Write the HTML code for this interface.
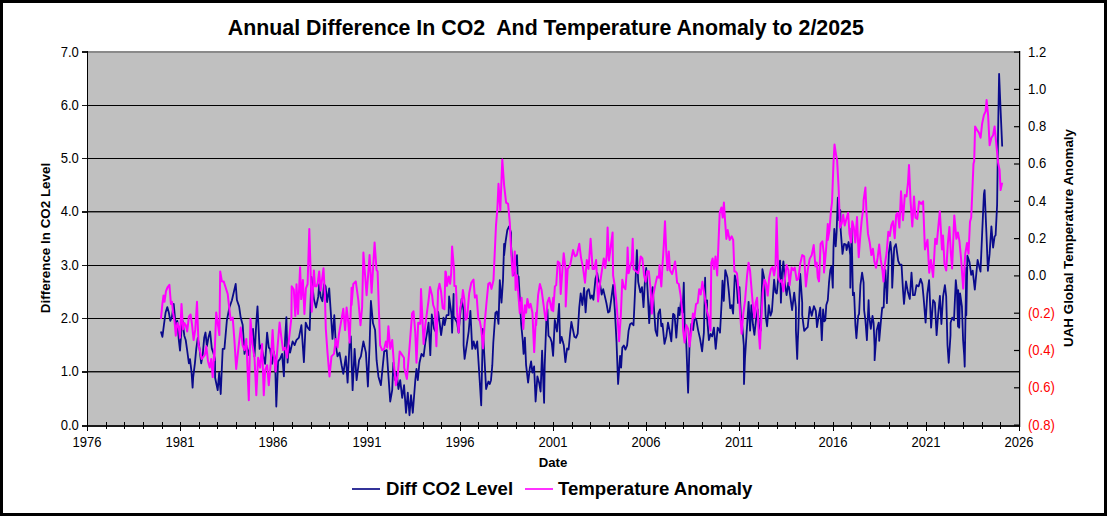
<!DOCTYPE html>
<html><head><meta charset="utf-8"><style>
html,body{margin:0;padding:0;background:#fff;}
body{width:1112px;height:519px;position:relative;overflow:hidden;color:#000;}
svg{position:absolute;left:0;top:0;}
</style></head><body>
<svg width="1112" height="519" viewBox="0 0 1112 519">
<rect x="87" y="53" width="932" height="372" fill="#C0C0C0"/>
<rect x="87" y="51" width="932" height="2" fill="#8A8A8A"/>
<rect x="87" y="105" width="932" height="1" fill="#000"/>
<rect x="87" y="158" width="932" height="1" fill="#000"/>
<rect x="87" y="211" width="932" height="1" fill="#111"/>
<rect x="87" y="212" width="932" height="1" fill="#707070"/>
<rect x="87" y="265" width="932" height="1" fill="#000"/>
<rect x="87" y="318" width="932" height="1" fill="#000"/>
<rect x="87" y="371" width="932" height="1" fill="#111"/>
<rect x="87" y="372" width="932" height="1" fill="#707070"/>
<polyline points="160.9,331.5 162.4,336.8 163.9,325.1 165.6,312.4 167.3,307.1 168.8,312.4 170.3,320.9 172.0,316.6 173.7,303.9 175.1,318.8 176.2,325.1 177.3,320.9 178.8,340.0 180.0,350.6 181.5,329.4 182.6,320.9 184.3,335.7 185.7,340.0 187.2,350.6 188.9,363.3 190.0,359.1 191.5,371.8 192.6,387.7 193.2,377.1 194.9,363.3 196.3,348.4 197.8,337.8 199.5,348.4 201.2,363.3 202.7,354.8 204.2,337.8 205.5,332.5 206.9,346.3 208.4,337.8 210.1,331.5 211.8,348.4 213.3,352.7 215.0,359.1 215.1,377.7 217.7,390.2 219.2,372.7 220.7,394.0 222.7,348.9 224.4,348.9 226.9,320.1 229.4,307.5 231.9,300.2 235.7,284.0 236.9,300.0 239.1,306.4 240.7,317.6 242.7,325.1 244.5,353.9 246.3,345.1 248.8,355.1 251.3,336.4 253.0,328.8 254.5,356.4 256.3,322.6 257.5,306.4 259.6,348.9 261.3,345.1 263.1,355.1 265.1,363.9 267.1,332.6 268.8,347.6 270.1,348.9 272.1,363.9 273.8,351.4 275.1,360.2 276.3,406.5 278.1,361.4 280.1,358.9 282.1,353.9 283.9,376.4 285.1,338.9 286.4,317.1 287.6,362.7 288.9,345.1 290.1,352.6 292.6,341.4 294.6,345.1 296.4,340.1 298.9,337.6 301.4,325.1 303.9,362.2 305.7,322.6 307.7,327.6 309.7,330.1 311.4,276.8 313.9,299.1 316.0,307.5 318.2,296.9 319.2,284.2 320.7,296.9 322.4,301.2 324.1,284.2 325.6,286.3 327.1,302.2 329.2,288.4 330.9,313.9 332.5,338.9 334.3,315.2 335.8,345.1 337.5,356.4 339.5,352.6 341.6,365.2 343.3,373.9 345.8,356.4 347.6,382.7 349.6,342.6 350.8,336.4 352.6,390.2 354.6,348.9 356.6,380.2 359.1,360.2 360.9,356.4 363.4,341.4 365.9,352.6 367.9,386.5 369.6,345.1 370.9,300.8 373.0,323.3 375.1,330.1 376.6,360.2 378.4,376.4 380.9,385.2 384.2,351.4 386.7,350.1 388.4,375.2 390.2,401.5 392.2,390.2 393.4,362.7 395.2,380.2 396.7,372.7 398.4,389.0 400.2,380.2 402.2,397.8 404.1,385.2 406.0,412.8 407.8,392.7 409.5,415.3 411.0,395.2 412.8,412.8 415.3,380.2 416.5,368.9 417.8,380.2 419.5,362.7 421.5,353.9 423.6,356.4 425.3,342.6 427.1,332.6 428.6,322.6 430.3,355.1 431.8,314.5 434.1,328.8 436.1,332.6 438.2,312.0 439.6,322.6 441.1,335.1 443.5,317.7 444.6,325.1 446.6,315.1 448.6,315.1 449.1,296.5 451.6,315.3 452.1,332.6 453.6,294.0 453.6,316.3 457.1,322.6 458.6,332.6 461.6,299.0 463.6,310.3 463.6,345.1 464.6,358.9 466.7,345.1 468.7,331.3 470.4,310.8 472.2,348.9 473.7,341.4 475.4,348.9 477.2,341.4 479.2,372.7 481.2,405.3 482.9,328.8 484.7,362.7 486.1,389.0 488.4,381.5 489.8,384.0 491.0,380.2 492.3,365.2 493.3,342.7 495.4,312.9 496.9,311.4 498.5,323.9 499.8,280.1 501.5,302.7 503.0,280.1 504.1,243.8 504.1,255.3 505.6,241.5 507.3,230.2 509.1,226.4 511.1,232.7 511.1,246.3 512.3,262.8 513.6,275.2 515.2,266.4 517.0,255.2 518.1,290.1 518.6,276.6 519.8,297.7 521.1,323.3 522.7,340.2 523.6,353.9 524.9,337.6 526.1,365.2 528.1,382.7 529.9,367.7 531.1,361.4 532.4,372.7 534.1,366.4 535.6,401.5 537.4,376.4 539.1,382.7 540.6,391.5 542.1,350.6 544.1,402.8 544.7,365.4 546.4,318.8 547.4,309.2 548.5,335.7 550.2,337.8 551.7,342.1 553.1,355.9 554.8,319.8 557.0,331.5 559.1,303.9 560.1,343.1 561.6,336.8 562.9,342.1 563.8,345.3 565.4,362.2 567.1,348.4 568.6,349.5 570.1,333.6 571.4,321.9 572.9,329.4 574.4,336.8 576.0,337.8 577.7,333.6 579.2,308.2 580.7,293.3 582.4,305.0 584.1,288.0 585.6,312.4 587.1,291.2 588.8,289.1 590.5,298.6 591.9,295.4 593.4,299.7 595.5,278.5 597.2,273.2 598.1,278.9 600.0,283.9 601.7,294.5 603.2,289.2 604.7,295.6 606.4,303.0 608.1,312.5 609.5,311.5 611.0,300.9 613.1,285.0 614.8,309.4 616.5,341.2 618.1,384.0 620.1,356.0 621.1,367.7 622.3,347.5 623.8,345.4 625.4,349.6 627.1,345.4 628.6,330.6 630.1,324.2 631.8,323.1 633.5,325.3 635.0,292.4 636.9,250.1 638.2,281.8 640.3,292.4 642.0,287.1 643.5,307.2 645.0,279.7 646.2,268.0 647.7,292.4 649.2,323.1 650.9,295.6 652.6,287.1 654.1,310.4 655.5,330.6 657.2,335.9 658.3,313.6 660.0,309.4 661.3,326.3 662.5,323.8 664.5,343.9 666.3,336.4 668.0,322.6 669.5,330.1 671.3,341.4 673.1,313.8 674.6,315.1 676.3,337.6 678.5,307.7 679.6,315.1 681.0,300.1 682.6,312.7 683.8,282.7 684.6,322.6 686.3,343.9 688.1,392.7 689.6,342.6 691.4,323.8 693.1,330.1 694.6,317.6 696.4,320.1 698.1,330.1 700.1,338.9 702.1,351.4 703.9,332.6 705.1,277.7 705.6,305.0 707.1,300.3 707.1,317.6 708.9,340.1 710.6,333.9 712.2,336.4 713.9,327.6 715.7,348.9 717.7,327.6 719.7,331.3 720.0,332.7 721.7,300.9 722.5,280.7 723.8,300.9 725.3,270.1 727.4,277.6 728.9,292.4 730.2,308.3 731.7,305.1 733.1,313.6 734.8,275.4 736.5,281.8 738.0,303.0 739.5,287.1 740.8,313.6 742.3,326.3 743.8,345.4 744.0,384.0 745.0,358.1 746.5,334.8 748.6,301.9 750.1,330.6 751.4,305.1 752.9,324.2 754.4,334.8 756.0,320.0 757.7,309.4 759.2,327.4 760.7,330.6 762.4,269.1 764.1,277.6 765.6,315.7 767.1,326.3 768.8,305.1 770.5,315.7 771.9,311.5 774.1,279.7 775.5,292.4 776.8,293.5 778.3,277.6 780.0,260.6 780.9,302.7 782.1,272.6 783.4,261.4 785.1,285.2 786.6,295.2 788.4,282.7 790.1,295.2 792.1,310.2 794.2,292.7 795.9,307.7 795.9,330.1 797.2,358.9 797.7,342.8 798.4,327.6 799.2,300.2 800.2,273.9 802.2,302.7 802.2,315.1 804.2,330.8 805.9,328.9 807.7,327.1 809.7,307.0 811.7,315.8 813.9,306.2 815.8,310.8 817.0,327.1 818.5,317.6 820.3,307.6 821.8,340.2 823.1,309.5 824.3,321.4 825.3,320.2 826.3,305.1 827.8,300.2 829.0,282.7 830.3,270.1 831.5,266.4 832.8,287.7 833.5,247.8 834.3,228.9 835.7,246.4 836.6,232.5 837.8,197.7 839.1,220.2 840.3,210.2 840.7,230.1 842.5,253.9 844.1,243.9 846.0,244.6 846.6,250.1 848.6,242.0 850.3,255.3 850.3,287.7 851.6,228.3 852.9,295.2 854.1,292.7 855.4,325.3 856.4,338.3 858.2,315.8 859.1,313.8 860.4,285.2 862.1,272.6 863.6,282.7 864.1,310.0 865.4,320.2 866.9,340.2 868.6,300.2 869.1,315.1 870.8,328.9 872.5,315.8 873.6,322.8 874.6,346.6 874.6,360.2 876.7,330.2 878.7,322.6 879.2,340.8 881.0,320.2 882.2,307.7 883.7,307.5 884.2,290.2 885.4,270.1 886.9,303.2 888.9,252.7 890.4,242.0 891.7,255.3 892.2,287.7 894.2,247.7 895.9,244.1 898.2,260.9 899.8,264.6 901.5,264.6 903.0,290.1 904.0,303.9 906.0,281.4 908.0,292.6 909.8,298.9 911.5,272.6 913.0,295.1 914.8,295.1 916.5,285.1 918.6,286.4 920.6,278.9 922.3,283.9 923.6,297.6 925.6,322.7 927.3,293.9 929.1,280.1 931.1,327.7 933.1,300.1 934.9,302.7 936.6,335.2 938.1,315.2 939.9,295.8 941.4,324.0 943.1,296.4 944.9,285.1 946.2,296.4 947.5,345.3 948.7,362.8 950.5,335.2 950.6,322.7 952.2,317.7 954.0,320.2 955.8,280.1 957.0,292.6 958.0,326.5 958.2,290.1 959.2,327.7 960.1,293.3 961.9,306.4 963.1,340.2 964.2,355.3 964.7,366.6 966.3,267.8 966.3,315.2 966.7,295.1 967.4,255.7 969.5,262.1 971.2,274.8 972.7,270.6 974.8,289.6 977.6,260.0 980.5,271.6 982.2,232.4 983.9,194.2 984.6,190.1 986.4,232.7 987.9,270.8 989.6,253.9 991.4,226.4 993.1,247.6 994.6,236.5 995.6,235.2 997.1,205.1 998.1,130.2 999.1,73.8 1000.6,110.1 1002.2,146.5" fill="none" stroke="#0A0A8C" stroke-width="1.8" stroke-linejoin="round"/>
<polyline points="160.9,318.8 162.4,303.9 163.5,295.4 164.5,301.8 166.0,291.2 167.7,287.0 169.4,284.8 170.9,303.9 172.0,301.8 173.0,312.4 174.5,320.9 175.8,335.7 177.3,323.0 178.8,327.2 180.0,337.8 181.5,303.9 183.0,329.4 184.3,323.0 185.7,325.1 187.2,331.5 188.9,316.6 190.6,314.5 192.1,325.1 193.6,340.0 195.3,329.4 197.0,301.8 198.5,344.2 199.9,350.6 201.6,359.1 203.3,356.9 204.8,354.8 206.3,346.3 208.0,361.2 209.7,367.5 211.2,359.1 212.7,377.1 214.4,348.4 214.4,360.2 216.2,312.5 219.4,335.1 220.2,271.4 221.9,281.4 223.7,281.4 227.7,294.0 228.9,305.0 230.7,320.1 232.7,317.6 234.4,340.1 236.2,368.9 238.2,350.1 240.7,327.6 242.6,345.1 244.5,350.1 246.3,338.9 248.8,400.3 250.5,318.8 252.5,345.1 254.5,357.7 256.3,395.2 258.1,357.7 260.1,367.7 262.1,343.9 263.8,395.2 265.1,370.2 267.1,365.2 268.8,385.2 270.6,365.2 272.6,330.1 273.8,352.6 275.6,371.4 277.6,346.4 279.6,322.6 281.4,337.6 283.1,350.1 285.1,347.6 287.1,357.7 288.9,340.1 291.4,317.6 291.7,286.3 293.8,289.5 295.3,316.0 296.5,284.2 298.0,313.9 300.1,267.2 301.2,299.1 302.9,280.0 304.4,313.9 305.9,288.4 307.6,284.2 309.3,229.1 310.7,273.6 311.8,311.8 313.9,270.4 315.0,286.3 316.5,286.3 317.7,283.1 319.2,271.5 320.7,290.6 322.0,280.0 323.5,268.3 324.9,294.8 325.8,328.8 327.5,352.6 329.5,376.4 331.5,356.4 334.0,353.9 335.8,338.9 337.5,347.6 339.0,333.9 341.8,317.7 343.3,308.8 345.1,330.1 346.6,307.6 348.3,322.6 349.6,342.6 351.6,287.7 351.6,305.0 353.3,284.0 355.8,281.4 358.3,300.2 360.5,325.2 362.1,307.5 363.4,252.6 365.1,275.2 366.6,295.2 369.6,255.1 371.6,292.7 374.6,242.6 376.6,270.2 377.6,271.4 380.1,345.1 382.1,350.1 384.2,348.9 385.9,341.4 387.2,347.6 388.4,326.3 390.2,348.9 392.2,340.1 394.2,367.7 395.9,385.2 397.7,375.2 399.7,351.4 402.2,355.1 404.0,357.7 404.2,367.7 406.9,379.0 409.5,347.6 412.1,313.3 413.5,311.3 415.3,332.6 416.5,362.7 418.2,322.7 420.3,323.8 421.0,289.0 423.6,343.9 425.3,325.1 428.6,300.2 430.0,287.0 432.1,295.4 433.2,305.0 434.7,309.2 436.4,346.3 438.1,290.1 439.5,283.8 441.0,291.2 442.7,308.2 444.4,309.2 445.4,271.4 445.9,272.1 447.0,285.9 448.7,276.4 450.1,283.8 451.2,273.2 452.1,246.4 454.1,270.2 454.4,285.9 455.9,285.9 457.1,312.4 458.6,332.5 460.1,308.2 461.8,301.8 462.9,290.1 464.4,299.7 465.6,319.8 467.1,317.7 469.2,293.3 471.3,282.7 473.5,279.5 474.9,297.6 476.6,295.4 478.3,318.8 479.8,320.9 481.3,329.4 483.0,348.4 484.7,323.0 486.2,306.0 488.3,283.8 490.0,282.7 491.5,288.9 493.5,280.1 496.0,225.2 497.3,210.2 498.5,183.8 500.3,210.2 502.3,159.5 504.1,185.1 506.1,202.6 508.1,203.9 509.8,222.7 511.1,250.2 512.7,275.8 513.6,267.6 514.8,251.5 515.6,290.1 517.0,275.2 518.6,297.7 519.8,313.2 521.6,297.7 523.3,328.9 524.9,305.2 526.1,312.7 527.4,298.9 529.1,307.7 530.6,303.9 532.4,312.7 534.2,352.1 536.1,312.7 536.1,325.1 538.1,295.2 539.9,283.9 541.6,290.1 543.6,305.2 545.3,318.3 546.1,320.1 547.4,302.7 549.2,297.7 551.7,310.2 553.2,297.7 553.2,311.3 554.9,286.4 556.2,285.1 557.8,261.4 559.6,263.3 560.7,293.9 562.1,274.0 563.7,253.3 565.7,270.3 565.7,306.4 567.7,268.9 570.2,265.2 573.0,250.1 575.0,256.3 576.8,255.1 579.3,243.8 581.0,257.6 583.0,267.6 585.0,282.7 586.8,260.1 588.5,268.9 590.6,238.8 592.6,268.9 594.3,268.9 596.1,260.1 598.1,301.4 600.0,283.9 602.1,269.1 603.8,258.5 605.3,268.0 606.8,254.2 607.6,227.5 608.9,260.6 612.6,232.5 613.1,275.4 614.8,286.0 616.5,303.0 618.0,324.2 619.1,341.2 620.8,315.7 622.3,279.7 623.8,287.1 625.4,289.2 627.1,267.0 627.6,247.6 628.6,273.3 631.8,260.6 632.7,238.8 633.5,269.1 638.2,273.3 639.2,267.0 640.7,256.4 642.4,258.5 644.1,275.4 645.6,281.8 647.1,271.2 648.8,271.2 650.5,288.2 651.9,313.6 653.4,294.5 655.5,283.9 657.2,276.5 658.9,277.6 659.5,265.2 661.3,286.5 662.5,265.2 663.8,245.1 665.0,221.3 666.3,252.7 667.5,270.2 668.8,251.4 670.0,270.2 672.1,274.0 673.8,267.7 675.1,261.4 677.1,282.7 678.8,284.0 680.6,295.3 682.6,315.3 683.1,330.1 684.6,342.6 686.3,325.1 688.1,328.8 689.6,346.4 689.7,345.4 691.4,330.6 692.9,313.6 694.4,317.8 696.0,304.1 697.7,303.0 699.2,289.2 700.7,294.5 702.4,281.8 704.1,292.4 705.6,303.0 707.1,311.5 708.8,317.8 710.5,330.6 711.3,262.7 712.6,258.5 714.1,269.1 715.5,256.4 717.2,275.4 718.2,250.2 719.7,212.6 721.4,207.5 722.7,217.6 723.9,202.5 725.2,222.6 726.4,238.9 727.7,230.1 729.7,240.1 731.7,236.3 733.2,240.1 734.4,271.4 735.3,271.2 737.0,273.3 738.7,292.4 740.1,313.6 741.6,333.8 743.3,313.6 745.0,300.9 747.1,275.4 748.6,262.7 750.1,271.2 751.8,292.4 752.9,305.1 754.4,317.8 755.6,303.0 757.1,297.7 758.6,330.6 759.9,348.6 761.3,320.0 762.8,292.4 764.5,279.7 766.2,283.9 767.7,295.6 769.2,277.6 770.9,269.1 772.6,267.0 774.1,275.4 775.5,267.0 776.6,217.7 778.3,277.6 780.0,281.8 781.6,280.1 783.4,291.4 785.1,277.6 786.6,265.1 788.4,270.1 789.6,285.2 791.6,267.6 793.4,270.1 794.7,267.6 796.7,280.1 798.4,278.9 800.2,263.9 802.2,255.1 804.2,256.3 805.9,286.4 807.7,270.1 809.7,258.9 811.7,255.1 813.7,245.1 815.4,266.4 816.7,262.6 817.8,277.6 819.0,281.4 820.6,243.9 822.4,241.4 824.0,255.3 824.0,272.6 826.0,250.2 827.8,224.0 827.8,240.1 829.5,230.2 831.0,210.2 832.0,202.7 833.5,162.6 834.5,144.5 836.1,155.1 837.1,160.1 838.6,187.6 840.0,227.6 841.7,223.3 843.2,214.8 844.7,225.4 846.4,219.1 848.1,212.7 849.5,233.9 851.0,242.4 852.3,221.2 853.8,227.6 855.3,242.4 857.0,217.0 858.7,257.2 860.1,238.2 861.6,221.2 863.3,208.5 863.6,200.2 865.4,187.6 866.5,212.7 868.0,233.9 869.7,242.4 871.4,255.1 872.9,248.8 874.4,261.5 876.0,267.8 877.7,257.2 879.2,244.5 880.7,259.4 882.4,270.0 883.5,281.6 885.0,263.6 886.6,253.0 888.3,231.8 889.8,236.0 891.3,225.4 893.0,221.2 894.7,238.2 896.2,214.8 897.7,212.7 899.4,227.6 899.8,218.9 901.0,191.3 903.0,220.2 904.8,195.1 906.5,196.4 908.0,182.6 909.0,165.0 910.5,200.1 912.3,226.4 914.0,196.4 915.5,217.7 917.3,218.9 919.1,201.4 921.1,203.9 923.1,201.4 924.8,246.5 925.0,249.4 927.5,239.8 929.2,272.7 930.9,260.0 933.1,276.9 935.2,238.8 936.7,244.1 939.8,211.2 942.0,249.4 943.0,235.6 944.5,264.2 946.2,270.6 947.9,243.0 949.4,227.1 950.9,253.6 952.1,268.4 954.3,215.4 956.4,238.8 957.9,232.4 959.4,240.9 961.0,257.8 963.2,288.6 965.3,253.6 967.0,243.0 968.5,253.6 970.0,221.8 971.2,217.6 971.3,215.2 973.5,163.7 974.2,161.3 975.1,126.4 977.1,130.2 978.9,132.7 980.6,137.7 982.1,123.9 983.9,115.1 985.6,111.4 986.6,100.1 988.1,115.1 989.6,145.2 991.4,137.7 993.1,135.2 994.6,126.4 996.4,145.2 998.1,162.6 999.6,170.1 1000.6,190.1 1002.2,182.6" fill="none" stroke="#FF00FF" stroke-width="2" stroke-linejoin="round"/>
<rect x="87" y="51" width="1" height="376" fill="#000"/>
<rect x="1019" y="51" width="1" height="376" fill="#000"/>
<rect x="1020" y="51" width="1" height="376" fill="#000" opacity="0.25"/>
<rect x="87" y="425" width="933" height="2" fill="#1A1A1A"/>
<rect x="82" y="51" width="5" height="2" fill="#1A1A1A"/>
<rect x="82" y="105" width="5" height="1" fill="#1A1A1A"/>
<rect x="82" y="158" width="5" height="1" fill="#1A1A1A"/>
<rect x="82" y="211" width="5" height="2" fill="#1A1A1A"/>
<rect x="82" y="265" width="5" height="1" fill="#1A1A1A"/>
<rect x="82" y="318" width="5" height="1" fill="#1A1A1A"/>
<rect x="82" y="371" width="5" height="2" fill="#1A1A1A"/>
<rect x="82" y="425" width="5" height="2" fill="#1A1A1A"/>
<rect x="1014" y="51.50" width="5" height="1.2" fill="#000"/>
<rect x="1014" y="88.80" width="5" height="1.2" fill="#000"/>
<rect x="1014" y="126.10" width="5" height="1.2" fill="#000"/>
<rect x="1014" y="163.40" width="5" height="1.2" fill="#000"/>
<rect x="1014" y="200.70" width="5" height="1.2" fill="#000"/>
<rect x="1014" y="238.00" width="5" height="1.2" fill="#000"/>
<rect x="1014" y="275.30" width="5" height="1.2" fill="#000"/>
<rect x="1014" y="312.60" width="5" height="1.2" fill="#000"/>
<rect x="1014" y="349.90" width="5" height="1.2" fill="#000"/>
<rect x="1014" y="387.20" width="5" height="1.2" fill="#000"/>
<rect x="1014" y="424.50" width="5" height="1.2" fill="#000"/>
<rect x="87" y="422" width="1" height="9" fill="#000"/>
<rect x="106" y="422" width="1" height="7" fill="#000"/>
<rect x="124" y="422" width="1" height="7" fill="#000"/>
<rect x="143" y="422" width="1" height="7" fill="#000"/>
<rect x="162" y="422" width="1" height="7" fill="#000"/>
<rect x="180" y="422" width="1" height="9" fill="#000"/>
<rect x="199" y="422" width="1" height="7" fill="#000"/>
<rect x="217" y="422" width="1" height="7" fill="#000"/>
<rect x="236" y="422" width="1" height="7" fill="#000"/>
<rect x="255" y="422" width="1" height="7" fill="#000"/>
<rect x="273" y="422" width="1" height="9" fill="#000"/>
<rect x="292" y="422" width="1" height="7" fill="#000"/>
<rect x="311" y="422" width="1" height="7" fill="#000"/>
<rect x="329" y="422" width="1" height="7" fill="#000"/>
<rect x="348" y="422" width="1" height="7" fill="#000"/>
<rect x="367" y="422" width="1" height="9" fill="#000"/>
<rect x="385" y="422" width="1" height="7" fill="#000"/>
<rect x="404" y="422" width="1" height="7" fill="#000"/>
<rect x="423" y="422" width="1" height="7" fill="#000"/>
<rect x="441" y="422" width="1" height="7" fill="#000"/>
<rect x="460" y="422" width="1" height="9" fill="#000"/>
<rect x="478" y="422" width="1" height="7" fill="#000"/>
<rect x="497" y="422" width="1" height="7" fill="#000"/>
<rect x="516" y="422" width="1" height="7" fill="#000"/>
<rect x="534" y="422" width="1" height="7" fill="#000"/>
<rect x="553" y="422" width="1" height="9" fill="#000"/>
<rect x="572" y="422" width="1" height="7" fill="#000"/>
<rect x="590" y="422" width="1" height="7" fill="#000"/>
<rect x="609" y="422" width="1" height="7" fill="#000"/>
<rect x="628" y="422" width="1" height="7" fill="#000"/>
<rect x="646" y="422" width="1" height="9" fill="#000"/>
<rect x="665" y="422" width="1" height="7" fill="#000"/>
<rect x="683" y="422" width="1" height="7" fill="#000"/>
<rect x="702" y="422" width="1" height="7" fill="#000"/>
<rect x="721" y="422" width="1" height="7" fill="#000"/>
<rect x="739" y="422" width="1" height="9" fill="#000"/>
<rect x="758" y="422" width="1" height="7" fill="#000"/>
<rect x="777" y="422" width="1" height="7" fill="#000"/>
<rect x="795" y="422" width="1" height="7" fill="#000"/>
<rect x="814" y="422" width="1" height="7" fill="#000"/>
<rect x="833" y="422" width="1" height="9" fill="#000"/>
<rect x="851" y="422" width="1" height="7" fill="#000"/>
<rect x="870" y="422" width="1" height="7" fill="#000"/>
<rect x="889" y="422" width="1" height="7" fill="#000"/>
<rect x="907" y="422" width="1" height="7" fill="#000"/>
<rect x="926" y="422" width="1" height="9" fill="#000"/>
<rect x="944" y="422" width="1" height="7" fill="#000"/>
<rect x="963" y="422" width="1" height="7" fill="#000"/>
<rect x="982" y="422" width="1" height="7" fill="#000"/>
<rect x="1000" y="422" width="1" height="7" fill="#000"/>
<rect x="1019" y="422" width="1" height="9" fill="#000"/>
<rect x="1.5" y="1.5" width="1104" height="513" fill="none" stroke="#000" stroke-width="3"/>
</svg>
<div style="position:absolute;left:0;width:1092px;top:15px;text-align:center;font:bold 22px 'Liberation Sans', sans-serif;white-space:pre;line-height:26px"><span style="display:inline-block;transform:scaleX(0.97)">Annual Difference In CO2  And Temperature Anomaly to 2/2025</span></div>
<div style="position:absolute;right:1033px;top:415.5px;font:15px 'Liberation Sans', sans-serif;line-height:18px;transform:scaleX(0.87);transform-origin:100% 50%">0.0</div>
<div style="position:absolute;right:1033px;top:362.2px;font:15px 'Liberation Sans', sans-serif;line-height:18px;transform:scaleX(0.87);transform-origin:100% 50%">1.0</div>
<div style="position:absolute;right:1033px;top:308.9px;font:15px 'Liberation Sans', sans-serif;line-height:18px;transform:scaleX(0.87);transform-origin:100% 50%">2.0</div>
<div style="position:absolute;right:1033px;top:255.6px;font:15px 'Liberation Sans', sans-serif;line-height:18px;transform:scaleX(0.87);transform-origin:100% 50%">3.0</div>
<div style="position:absolute;right:1033px;top:202.4px;font:15px 'Liberation Sans', sans-serif;line-height:18px;transform:scaleX(0.87);transform-origin:100% 50%">4.0</div>
<div style="position:absolute;right:1033px;top:149.1px;font:15px 'Liberation Sans', sans-serif;line-height:18px;transform:scaleX(0.87);transform-origin:100% 50%">5.0</div>
<div style="position:absolute;right:1033px;top:95.8px;font:15px 'Liberation Sans', sans-serif;line-height:18px;transform:scaleX(0.87);transform-origin:100% 50%">6.0</div>
<div style="position:absolute;right:1033px;top:42.5px;font:15px 'Liberation Sans', sans-serif;line-height:18px;transform:scaleX(0.87);transform-origin:100% 50%">7.0</div>
<div style="position:absolute;left:1028px;top:42.5px;font:15px 'Liberation Sans', sans-serif;line-height:18px;color:#000;transform:scaleX(0.87);transform-origin:0 50%">1.2</div>
<div style="position:absolute;left:1028px;top:79.8px;font:15px 'Liberation Sans', sans-serif;line-height:18px;color:#000;transform:scaleX(0.87);transform-origin:0 50%">1.0</div>
<div style="position:absolute;left:1028px;top:117.1px;font:15px 'Liberation Sans', sans-serif;line-height:18px;color:#000;transform:scaleX(0.87);transform-origin:0 50%">0.8</div>
<div style="position:absolute;left:1028px;top:154.4px;font:15px 'Liberation Sans', sans-serif;line-height:18px;color:#000;transform:scaleX(0.87);transform-origin:0 50%">0.6</div>
<div style="position:absolute;left:1028px;top:191.7px;font:15px 'Liberation Sans', sans-serif;line-height:18px;color:#000;transform:scaleX(0.87);transform-origin:0 50%">0.4</div>
<div style="position:absolute;left:1028px;top:229.0px;font:15px 'Liberation Sans', sans-serif;line-height:18px;color:#000;transform:scaleX(0.87);transform-origin:0 50%">0.2</div>
<div style="position:absolute;left:1028px;top:266.3px;font:15px 'Liberation Sans', sans-serif;line-height:18px;color:#000;transform:scaleX(0.87);transform-origin:0 50%">0.0</div>
<div style="position:absolute;left:1028px;top:303.6px;font:15px 'Liberation Sans', sans-serif;line-height:18px;color:#FF0000;transform:scaleX(0.87);transform-origin:0 50%">(0.2)</div>
<div style="position:absolute;left:1028px;top:340.9px;font:15px 'Liberation Sans', sans-serif;line-height:18px;color:#FF0000;transform:scaleX(0.87);transform-origin:0 50%">(0.4)</div>
<div style="position:absolute;left:1028px;top:378.2px;font:15px 'Liberation Sans', sans-serif;line-height:18px;color:#FF0000;transform:scaleX(0.87);transform-origin:0 50%">(0.6)</div>
<div style="position:absolute;left:1028px;top:415.5px;font:15px 'Liberation Sans', sans-serif;line-height:18px;color:#FF0000;transform:scaleX(0.87);transform-origin:0 50%">(0.8)</div>
<div style="position:absolute;left:57.0px;width:60px;text-align:center;top:433px;font:15px 'Liberation Sans', sans-serif;line-height:17px;transform:scaleX(0.87)">1976</div>
<div style="position:absolute;left:150.2px;width:60px;text-align:center;top:433px;font:15px 'Liberation Sans', sans-serif;line-height:17px;transform:scaleX(0.87)">1981</div>
<div style="position:absolute;left:243.4px;width:60px;text-align:center;top:433px;font:15px 'Liberation Sans', sans-serif;line-height:17px;transform:scaleX(0.87)">1986</div>
<div style="position:absolute;left:336.6px;width:60px;text-align:center;top:433px;font:15px 'Liberation Sans', sans-serif;line-height:17px;transform:scaleX(0.87)">1991</div>
<div style="position:absolute;left:429.8px;width:60px;text-align:center;top:433px;font:15px 'Liberation Sans', sans-serif;line-height:17px;transform:scaleX(0.87)">1996</div>
<div style="position:absolute;left:523.0px;width:60px;text-align:center;top:433px;font:15px 'Liberation Sans', sans-serif;line-height:17px;transform:scaleX(0.87)">2001</div>
<div style="position:absolute;left:616.2px;width:60px;text-align:center;top:433px;font:15px 'Liberation Sans', sans-serif;line-height:17px;transform:scaleX(0.87)">2006</div>
<div style="position:absolute;left:709.4px;width:60px;text-align:center;top:433px;font:15px 'Liberation Sans', sans-serif;line-height:17px;transform:scaleX(0.87)">2011</div>
<div style="position:absolute;left:802.6px;width:60px;text-align:center;top:433px;font:15px 'Liberation Sans', sans-serif;line-height:17px;transform:scaleX(0.87)">2016</div>
<div style="position:absolute;left:895.8px;width:60px;text-align:center;top:433px;font:15px 'Liberation Sans', sans-serif;line-height:17px;transform:scaleX(0.87)">2021</div>
<div style="position:absolute;left:989.0px;width:60px;text-align:center;top:433px;font:15px 'Liberation Sans', sans-serif;line-height:17px;transform:scaleX(0.87)">2026</div>
<div style="position:absolute;left:503px;width:100px;text-align:center;top:455px;font:bold 13.2px 'Liberation Sans', sans-serif;line-height:16px">Date</div>
<div style="position:absolute;left:-54px;top:230px;width:200px;text-align:center;transform:rotate(-90deg);font:bold 13.4px 'Liberation Sans', sans-serif;line-height:16px;white-space:pre">Difference In CO2 Level</div>
<div style="position:absolute;left:919px;top:230px;width:300px;text-align:center;transform:rotate(-90deg);font:bold 13.4px 'Liberation Sans', sans-serif;line-height:16px;white-space:pre">UAH Global Temperature Anomaly</div>
<div style="position:absolute;left:352px;top:488px;width:28px;height:2px;background:#333399"></div>
<div style="position:absolute;left:386px;top:478px;font:bold 18.6px 'Liberation Sans', sans-serif;line-height:22px;white-space:pre">Diff CO2 Level</div>
<div style="position:absolute;left:525px;top:488px;width:28px;height:2px;background:#FF33FF"></div>
<div style="position:absolute;left:558px;top:478px;font:bold 18.6px 'Liberation Sans', sans-serif;line-height:22px;white-space:pre">Temperature Anomaly</div>
</body></html>
